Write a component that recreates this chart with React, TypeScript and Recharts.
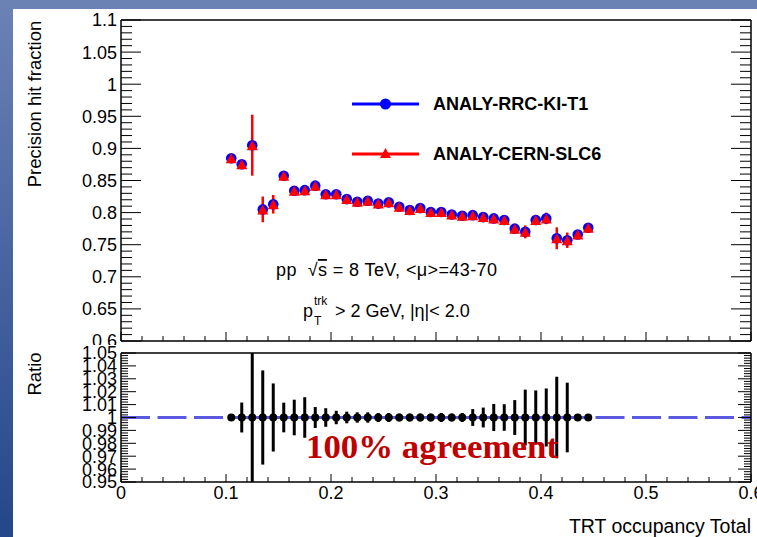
import React from "react";
import { ComposedChart, Scatter, XAxis, YAxis, ErrorBar, ReferenceLine } from "recharts";

// bin centres, TRT occupancy
const BINS = [
  0.105, 0.115, 0.125, 0.135, 0.145, 0.155, 0.165, 0.175, 0.185, 0.195, 0.205, 0.215,
  0.225, 0.235, 0.245, 0.255, 0.265, 0.275, 0.285, 0.295, 0.305, 0.315, 0.325, 0.335,
  0.345, 0.355, 0.365, 0.375, 0.385, 0.395, 0.405, 0.415, 0.425, 0.435, 0.445,
];
const FRACTION = [
  0.8846, 0.8752, 0.905, 0.805, 0.813, 0.8575, 0.834, 0.835, 0.842, 0.8285, 0.8285, 0.821,
  0.817, 0.8185, 0.814, 0.816, 0.809, 0.804, 0.807, 0.801, 0.801, 0.797, 0.795, 0.796,
  0.793, 0.791, 0.7885, 0.775, 0.77, 0.7885, 0.791, 0.76, 0.757, 0.766, 0.7765,
];
const FRACTION_ERR = [
  0.003, 0.004, 0.0475, 0.02, 0.0145, 0.004, 0.004, 0.004, 0.003, 0.003, 0.003, 0.002,
  0.002, 0.002, 0.002, 0.002, 0.002, 0.002, 0.002, 0.002, 0.002, 0.002, 0.002, 0.003,
  0.003, 0.003, 0.003, 0.005, 0.01, 0.008, 0.009, 0.017, 0.012, 0.004, 0.003,
];
const RATIO = [
  1, 1, 1, 1, 1, 1, 1, 1, 1, 1, 1, 1, 1, 1, 1, 1, 1, 1,
  1, 1, 1, 1, 1, 1, 1, 1, 1, 1, 1, 1, 1, 1, 1, 1, 1,
];
const RATIO_ERR = [
  0.002, 0.0116, 0.08, 0.0365, 0.0264, 0.0115, 0.0138, 0.0157, 0.0081, 0.0072, 0.0052, 0.0045,
  0.004, 0.004, 0.0035, 0.0035, 0.003, 0.003, 0.003, 0.003, 0.0035, 0.003, 0.0035, 0.0065,
  0.0077, 0.0105, 0.0103, 0.0135, 0.0216, 0.021, 0.0225, 0.0316, 0.027, 0.002, 0.002,
];

const SERIES = [
  { name: "ANALY-RRC-KI-T1", color: "#0000ff", marker: "circle" },
  { name: "ANALY-CERN-SLC6", color: "#ff0000", marker: "triangle" },
];

const X_MAJOR = [0, 0.1, 0.2, 0.3, 0.4, 0.5, 0.6];
const X_LABELS = ["0", "0.1", "0.2", "0.3", "0.4", "0.5", "0.6"];
const TOP_Y_MAJOR = [0.6, 0.65, 0.7, 0.75, 0.8, 0.85, 0.9, 0.95, 1, 1.05, 1.1];
const TOP_Y_LABELS = ["0.6", "0.65", "0.7", "0.75", "0.8", "0.85", "0.9", "0.95", "1", "1.05", "1.1"];
const RATIO_Y_MAJOR = [0.95, 0.96, 0.97, 0.98, 0.99, 1, 1.01, 1.02, 1.03, 1.04, 1.05];
const RATIO_Y_LABELS = ["0.95", "0.96", "0.97", "0.98", "0.99", "1", "1.01", "1.02", "1.03", "1.04", "1.05"];

const steps = (a: number, b: number, s: number) =>
  Array.from({ length: Math.round((b - a) / s) + 1 }, (_, i) => +(a + i * s).toFixed(4));

const X_TICKS = steps(0, 0.6, 0.02);
const TOP_Y_TICKS = steps(0.6, 1.1, 0.01);
const RATIO_Y_TICKS = steps(0.95, 1.05, 0.002);

const FONT = "'Liberation Sans', Arial, sans-serif";
const W = 757;
const H = 537;

const topData = BINS.map((x, i) => ({ x, y: FRACTION[i], e: FRACTION_ERR[i] }));
const ratioData = BINS.map((x, i) => ({ x, y: RATIO[i], e: RATIO_ERR[i] }));

type Side = "left" | "right" | "top" | "bottom";

function tick(side: Side, majors: number[], labels: string[] | null, majLen: number, minLen: number) {
  return (p: any) => {
    const v = p.payload.value;
    const k = majors.findIndex((m) => Math.abs(m - v) < 1e-6);
    const len = k >= 0 ? majLen : minLen;
    const { x, y } = p;
    let x2 = x;
    let y2 = y;
    if (side === "left") x2 = x + len;
    if (side === "right") x2 = x - len;
    if (side === "top") y2 = y + len;
    if (side === "bottom") y2 = y - len;
    let label = null;
    if (labels && k >= 0) {
      label =
        side === "left" ? (
          <text x={x - 4} y={y} dy="0.36em" textAnchor="end" fontSize={18} fontFamily={FONT} fill="#000">
            {labels[k]}
          </text>
        ) : (
          <text x={x} y={y + 11} dy="0.36em" textAnchor="middle" fontSize={18} fontFamily={FONT} fill="#000">
            {labels[k]}
          </text>
        );
    }
    return (
      <g>
        <line x1={x} y1={y} x2={x2} y2={y2} stroke="#000" strokeWidth={1} />
        {label}
      </g>
    );
  };
}

const frame = { stroke: "#000", strokeWidth: 1.5 };

function Circle(p: any) {
  return <circle cx={p.cx} cy={p.cy} r={5.3} fill={SERIES[0].color} />;
}
function Triangle(p: any) {
  const { cx, cy } = p;
  return <polygon points={`${cx},${cy - 5} ${cx + 5.5},${cy + 5} ${cx - 5.5},${cy + 5}`} fill={SERIES[1].color} />;
}
function Dot(p: any) {
  return <circle cx={p.cx} cy={p.cy} r={4} fill="#000" />;
}

function TopPad() {
  return (
    <ComposedChart width={W} height={345} margin={{ top: 19, right: 5, bottom: 3, left: 120 }}>
      <XAxis dataKey="x" type="number" domain={[0, 0.6]} allowDataOverflow ticks={X_TICKS} interval={0}
        height={1} tickSize={0} tickMargin={0} axisLine={frame} tick={tick("bottom", X_MAJOR, null, 9, 5)} />
      <XAxis xAxisId="top" orientation="top" type="number" domain={[0, 0.6]} allowDataOverflow ticks={X_TICKS}
        interval={0} height={1} tickSize={0} tickMargin={0} axisLine={frame} tick={tick("top", X_MAJOR, null, 9, 5)} />
      <YAxis dataKey="y" type="number" domain={[0.6, 1.1]} allowDataOverflow ticks={TOP_Y_TICKS} interval={0}
        width={1} tickSize={0} tickMargin={0} axisLine={frame} tick={tick("left", TOP_Y_MAJOR, TOP_Y_LABELS, 20, 11)} />
      <YAxis yAxisId="right" orientation="right" type="number" domain={[0.6, 1.1]} allowDataOverflow ticks={TOP_Y_TICKS}
        interval={0} width={1} tickSize={0} tickMargin={0} axisLine={frame} tick={tick("right", TOP_Y_MAJOR, null, 20, 11)} />
      <Scatter name={SERIES[0].name} data={topData} shape={Circle} isAnimationActive={false} />
      <Scatter name={SERIES[1].name} data={topData} shape={Triangle} isAnimationActive={false}>
        <ErrorBar dataKey="e" direction="y" width={0} stroke={SERIES[1].color} strokeWidth={2.5} isAnimationActive={false} />
      </Scatter>
    </ComposedChart>
  );
}

function RatioPad() {
  return (
    <ComposedChart width={W - 13} height={192} margin={{ top: 7, right: 5, bottom: 54, left: 107 }}>
      <XAxis dataKey="x" type="number" domain={[0, 0.6]} allowDataOverflow ticks={X_TICKS} interval={0}
        height={1} tickSize={0} tickMargin={0} axisLine={frame} tick={tick("bottom", X_MAJOR, X_LABELS, 8, 5)} />
      <XAxis xAxisId="top" orientation="top" type="number" domain={[0, 0.6]} allowDataOverflow ticks={X_TICKS}
        interval={0} height={1} tickSize={0} tickMargin={0} axisLine={frame} tick={tick("top", X_MAJOR, null, 8, 5)} />
      <YAxis dataKey="y" type="number" domain={[0.95, 1.05]} allowDataOverflow ticks={RATIO_Y_TICKS} interval={0}
        width={1} tickSize={0} tickMargin={0} axisLine={frame} tick={tick("left", RATIO_Y_MAJOR, RATIO_Y_LABELS, 15, 7)} />
      <YAxis yAxisId="right" orientation="right" type="number" domain={[0.95, 1.05]} allowDataOverflow ticks={RATIO_Y_TICKS}
        interval={0} width={1} tickSize={0} tickMargin={0} axisLine={frame} tick={tick("right", RATIO_Y_MAJOR, null, 13, 7)} />
      <ReferenceLine y={1} stroke="#5a5ae0" strokeWidth={3} strokeDasharray="29 7.5" />
      <Scatter name="Ratio" data={ratioData} shape={Dot} line={{ stroke: "#5a5ae0", strokeWidth: 3 }} isAnimationActive={false}>
        <ErrorBar dataKey="e" direction="y" width={0} stroke="#000" strokeWidth={3} isAnimationActive={false} />
      </Scatter>
    </ComposedChart>
  );
}

function Overlay() {
  return (
    <svg width={W} height={H} style={{ position: "absolute", left: 0, top: 0, pointerEvents: "none" }}>
      <defs>
        {/* plot area of the ratio pad, in that pad's own svg coordinates */}
        <clipPath id="ratioClip" clipPathUnits="userSpaceOnUse">
          <rect x={108} y={8} width={630} height={129} />
        </clipPath>
      </defs>
      {SERIES.map((s, i) => {
        const y = 104 + i * 50;
        return (
          <g key={s.name}>
            <line x1={352} x2={419} y1={y} y2={y} stroke={s.color} strokeWidth={3} />
            {s.marker === "circle" ? (
              <circle cx={385.5} cy={y} r={5.5} fill={s.color} />
            ) : (
              <polygon points={`385.5,${y - 6} 391,${y + 4} 380,${y + 4}`} fill={s.color} />
            )}
            <text x={433} y={y} dy="0.36em" fontSize={18} fontWeight="bold" fontFamily={FONT} fill="#000">
              {s.name}
            </text>
          </g>
        );
      })}
      <text x={276} y={276} fontSize={18} fontFamily={FONT} fill="#000" textLength={221}>
        pp{"\u00a0\u00a0"}√<tspan style={{ textDecoration: "overline" }}>s</tspan> = 8 TeV, &lt;μ&gt;=43-70
      </text>
      <text x={303} y={316.5} fontSize={18} fontFamily={FONT} fill="#000">p</text>
      <text x={314} y={305} fontSize={12} fontFamily={FONT} fill="#000">trk</text>
      <text x={314} y={325} fontSize={12} fontFamily={FONT} fill="#000">T</text>
      <text x={335} y={316.5} fontSize={18} fontFamily={FONT} fill="#000">&gt; 2 GeV, |η|&lt; 2.0</text>
      <text x={41} y={104} transform="rotate(-90 41 104)" textAnchor="middle" fontSize={18.5} fontFamily={FONT} fill="#000">
        Precision hit fraction
      </text>
      <text x={41} y={374} transform="rotate(-90 41 374)" textAnchor="middle" fontSize={18.5} fontFamily={FONT} fill="#000">
        Ratio
      </text>
      <text x={751} y={533} textAnchor="end" fontSize={19.5} fontFamily={FONT} fill="#000">
        TRT occupancy Total
      </text>
      <text x={306} y={457.5} fontSize={33} fontWeight="bold" fontFamily="'Liberation Serif', 'Times New Roman', serif"
        fill="#c00000" textLength={252} lengthAdjust="spacingAndGlyphs">
        100% agreement
      </text>
    </svg>
  );
}

export default function App() {
  return (
    <div style={{ position: "absolute", left: 0, top: 0, width: W, height: H, overflow: "hidden",
      background: "linear-gradient(to bottom, #6b82b5, #24468a)" }}>
      <style>{`.ratio-pad g[class*="errorBar"] { clip-path: url(#ratioClip); }`}</style>
      <div style={{ position: "absolute", left: 13, top: 9, width: W - 13, height: H - 9, background: "#fff" }} />
      <div style={{ position: "absolute", left: 0, top: 0 }}>
        <TopPad />
      </div>
      <div className="ratio-pad"
        style={{ position: "absolute", left: 13, top: 345, width: W - 13, height: 192, background: "#fff" }}>
        <RatioPad />
      </div>
      <Overlay />
    </div>
  );
}
